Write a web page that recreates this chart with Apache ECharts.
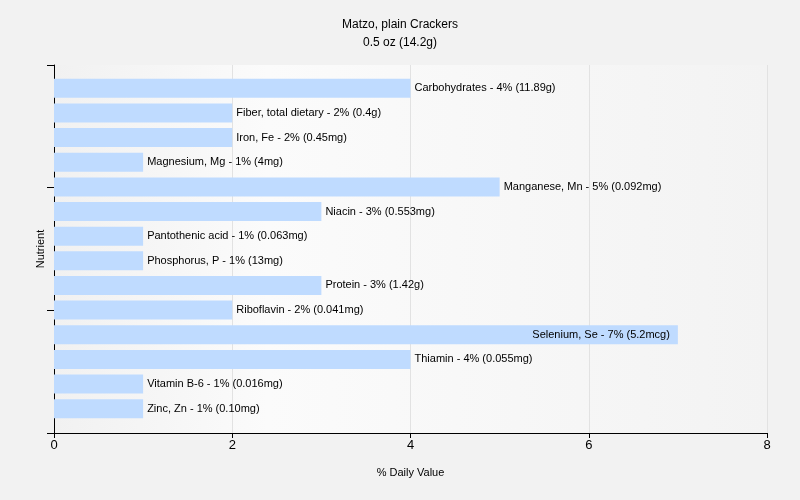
<!DOCTYPE html>
<html><head><meta charset="utf-8">
<script src="https://cdn.jsdelivr.net/npm/echarts@6/dist/echarts.min.js"></script>
<style>html,body{margin:0;padding:0;background:#f2f2f2;}#c{width:800px;height:500px;}</style>
</head><body><div id="c"></div>
<script>
const nutrients = ["Carbohydrates","Fiber, total dietary","Iron, Fe","Magnesium, Mg","Manganese, Mn","Niacin","Pantothenic acid","Phosphorus, P","Protein","Riboflavin","Selenium, Se","Thiamin","Vitamin B-6","Zinc, Zn"];
const dailyValue = [4,2,2,1,5,3,1,1,3,2,7,4,1,1];
const amounts = ["11.89g","0.4g","0.45mg","4mg","0.092mg","0.553mg","0.063mg","13mg","1.42g","0.041mg","5.2mcg","0.055mg","0.016mg","0.10mg"];
const xTicks = [0,2,4,6,8];

const font = "Liberation Sans, Arial, sans-serif";
const chart = echarts.init(document.getElementById('c'));
chart.setOption({
  backgroundColor: '#f2f2f2',
  animation: false,
  title: {
    text: 'Matzo, plain Crackers\n0.5 oz (14.2g)',
    left: 'center', top: 11,
    textStyle: {fontFamily: font, fontSize: 12, fontWeight: 'normal', color: '#000', lineHeight: 18}
  },
  grid: [
    {left: 54, right: 33, top: 65, bottom: 67, show: true, borderWidth: 0,
     backgroundColor: new echarts.graphic.LinearGradient(0,0,1,0,[
      {offset:0,color:'#f1f1f1'},{offset:0.3,color:'#fbfbfb'},{offset:1,color:'#f3f3f3'}])},
    {left: 54, right: 33, top: 76, bottom: 79}
  ],
  xAxis: [{
    gridIndex: 0, type: 'value', min: xTicks[0], max: xTicks[xTicks.length-1], interval: 2,
    name: '% Daily Value', nameLocation: 'middle', nameGap: 34,
    nameTextStyle: {fontFamily: font, fontSize: 11, color: '#000'},
    axisLine: {show: true, lineStyle: {color: '#000'}},
    axisTick: {show: true, length: 5, lineStyle: {color: '#000'}},
    axisLabel: {fontFamily: font, fontSize: 13, color: '#000', margin: 6},
    splitLine: {show: true, lineStyle: {color: '#e2e2e2'}}
  },{
    gridIndex: 1, type: 'value', min: xTicks[0], max: xTicks[xTicks.length-1], interval: 2, show: false
  }],
  yAxis: [{
    gridIndex: 0, type: 'value', min: 0, max: 3, interval: 1,
    name: 'Nutrient', nameLocation: 'middle', nameGap: 8,
    nameTextStyle: {fontFamily: font, fontSize: 11, color: '#000'},
    axisLine: {show: true, lineStyle: {color: '#000'}}, axisLabel: {show: false},
    axisTick: {show: true, length: 7, lineStyle: {color: '#000'}},
    splitLine: {show: false}
  },{
    gridIndex: 1, type: 'category', data: nutrients, inverse: true, show: false
  }],
  series: [{
    type: 'bar', xAxisIndex: 1, yAxisIndex: 1,
    data: dailyValue.map((v,i) => ({
      value: v,
      label: v >= 6 ? {position: 'insideRight', distance: 8} : {position: 'right', distance: 4}
    })),
    barCategoryGap: '23%',
    itemStyle: {color: '#bfdbff'},
    label: {
      show: true, fontFamily: font, fontSize: 11, color: '#000',
      formatter: p => nutrients[p.dataIndex] + ' - ' + dailyValue[p.dataIndex] + '% (' + amounts[p.dataIndex] + ')'
    }
  }]
});
</script></body></html>
